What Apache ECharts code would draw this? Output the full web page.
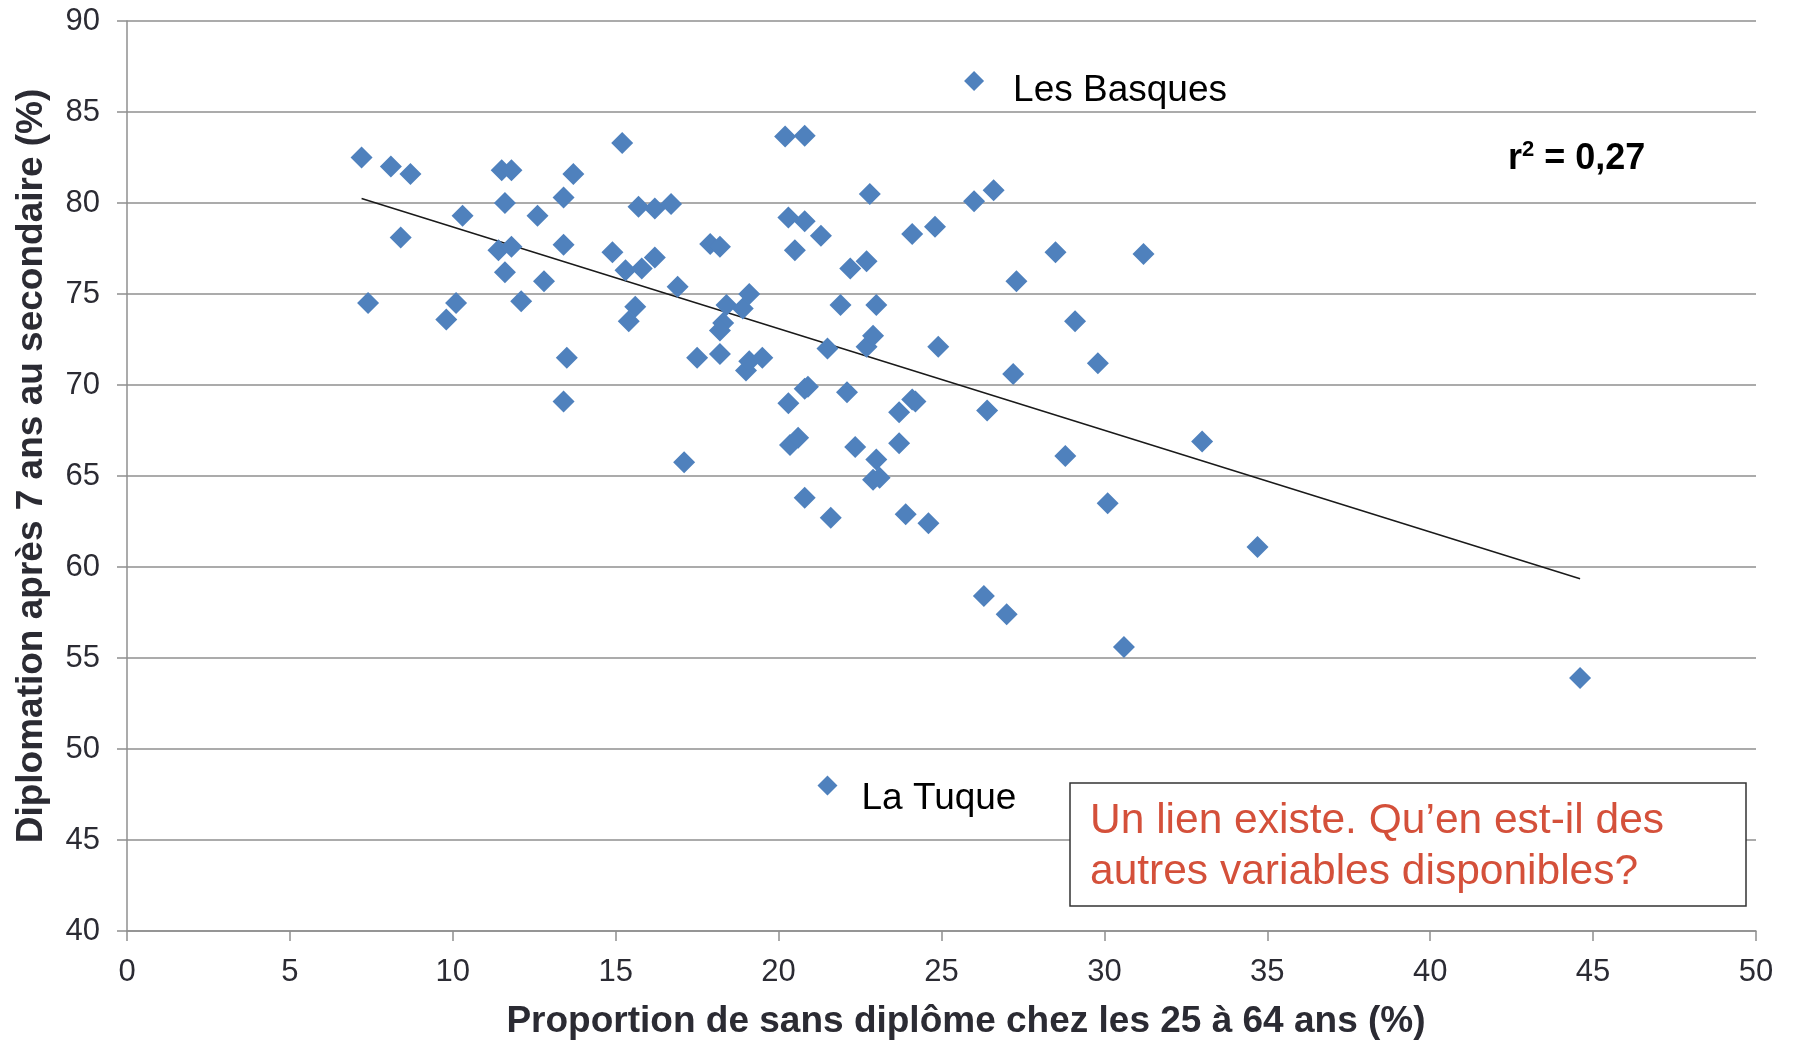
<!DOCTYPE html>
<html>
<head>
<meta charset="utf-8">
<script src="https://cdn.jsdelivr.net/npm/echarts@6/dist/echarts.min.js"></script>
<style>
html,body{margin:0;padding:0;background:#fff;}
#chart{width:1793px;height:1043px;}
</style>
</head>
<body>
<div id="chart"></div>
<script>
// Proportion de sans diplôme chez les 25 à 64 ans (%)
const xValues = [7.2,7.4,8.1,8.4,8.7,9.8,10.1,10.3,11.4,11.5,11.8,11.6,11.8,11.6,12.1,12.6,12.8,13.4,13.4,13.5,13.4,13.7,14.9,15.2,15.3,15.6,15.4,15.7,15.8,16.2,16.2,16.7,16.9,17.1,17.5,17.9,18.2,18.3,18.2,18.4,18.2,18.9,19.0,19.1,19.1,19.5,20.2,20.8,20.3,20.8,20.5,21.3,20.3,20.8,20.9,20.35,20.6,20.8,21.5,21.6,21.9,22.1,22.2,22.7,22.35,22.8,22.7,22.9,23.0,23.0,22.9,23.1,23.7,23.7,23.9,24.1,24.1,24.2,24.6,24.8,24.9,26.0,26.6,26.4,26.3,27.0,27.2,27.3,28.5,28.8,29.1,29.8,30.1,30.6,31.2,33.0,34.7,44.6];
// Diplomation après 7 ans au secondaire (%)
const yValues = [82.5,74.5,82.0,78.1,81.6,73.6,74.5,79.3,77.4,81.8,81.8,80.0,77.6,76.2,74.6,79.3,75.7,80.3,77.7,71.5,69.1,81.6,77.3,83.3,76.3,74.3,73.5,79.8,76.4,79.7,77.0,79.95,75.4,65.75,71.5,77.75,77.6,73.4,73.0,74.4,71.7,74.2,70.8,71.3,75.0,71.5,83.65,83.7,79.2,79.0,77.4,78.2,69.0,69.8,69.9,66.7,67.1,63.8,72.0,62.7,74.4,69.6,76.4,76.8,66.6,80.5,72.1,72.7,74.4,65.9,64.8,64.9,68.5,66.8,62.9,78.3,69.2,69.1,62.4,78.7,72.1,80.1,80.7,68.6,58.4,57.4,70.6,75.7,77.3,66.1,73.5,71.2,63.5,55.6,77.2,66.9,61.1,53.9];
// Labelled territories
const labelNames = ['Les Basques','La Tuque'];
const labelX = [26.0, 21.5];
const labelY = [86.7, 48.0];
// Linear trend (endpoints)
const trendX = [7.2, 44.6];
const trendY = [80.25, 59.35];
const r2Text = '0,27';
const xTitle = 'Proportion de sans diplôme chez les 25 à 64 ans (%)';
const yTitle = 'Diplomation après 7 ans au secondaire (%)';
const noteLines = ['Un lien existe. Qu\u2019en est-il des', 'autres variables disponibles?'];

const FONT = '"Liberation Sans", Arial, Helvetica, sans-serif';
const BLUE = '#4F81BD';
const GRID_GRAY = '#8f8f8f';
const TEXT = '#2b2b33';

const chart = echarts.init(document.getElementById('chart'), null, {renderer:'canvas'});

const mainData = xValues.map((x,i)=>[x, yValues[i]]);
// per-label placement (style, not data)
const labelPlacement = [{distance:29, offset:[0,10]}, {distance:24, offset:[0,13]}];
const labelData = labelNames.map((n,i)=>({
  name:n, value:[labelX[i], labelY[i]],
  label:{distance:labelPlacement[i].distance, offset:labelPlacement[i].offset}
}));
const trendData = trendX.map((x,i)=>[x, trendY[i]]);

const option = {
  animation:false,
  backgroundColor:'#fff',
  grid:{left:127, right:37, top:21, bottom:112, containLabel:false},
  xAxis:{
    type:'value', min:0, max:50, interval:5,
    axisLine:{show:true, lineStyle:{color:GRID_GRAY, width:1.5}},
    axisTick:{show:true, length:10, inside:false, lineStyle:{color:GRID_GRAY, width:1.5}},
    axisLabel:{color:TEXT, fontSize:31, fontFamily:FONT, margin:26},
    splitLine:{show:false}
  },
  yAxis:{
    type:'value', min:40, max:90, interval:5,
    axisLine:{show:true, onZero:false, lineStyle:{color:GRID_GRAY, width:1.5}},
    axisTick:{show:true, length:10, lineStyle:{color:GRID_GRAY, width:1.5}},
    axisLabel:{color:TEXT, fontSize:31, fontFamily:FONT, margin:27},
    splitLine:{show:true, lineStyle:{color:GRID_GRAY, width:1.5}}
  },
  series:[
    {
      type:'line', data:trendData, symbol:'none', silent:true,
      lineStyle:{color:'#1a1a1a', width:1.5}, z:3
    },
    {
      type:'scatter', data:mainData, symbol:'diamond', symbolSize:22,
      itemStyle:{color:BLUE, opacity:1}, z:4
    },
    {
      type:'scatter', data:labelData, symbol:'diamond', symbolSize:20,
      itemStyle:{color:BLUE, opacity:1}, z:4,
      label:{show:true, position:'right', formatter:'{b}',
        color:'#000', fontSize:37, fontFamily:FONT}
    }
  ],
  graphic:[
    {type:'text', x:1508, y:158, z:10,
      style:{text:'{r|r}{s|2}{r| = '+r2Text+'}', textVerticalAlign:'middle',
        rich:{r:{fontSize:36, fontWeight:'bold', fontFamily:FONT, fill:'#000', verticalAlign:'bottom'},
              s:{fontSize:22, fontWeight:'bold', fontFamily:FONT, fill:'#000', verticalAlign:'top', padding:[0,0,16,0]}}}},
    {type:'text', x:966, y:1022, z:10,
      style:{text:xTitle, fontSize:37, fontWeight:'bold', fontFamily:FONT, fill:TEXT, textAlign:'center', textVerticalAlign:'middle'}},
    {type:'text', x:32, y:466, rotation:Math.PI/2, z:10,
      style:{text:yTitle, fontSize:37, fontWeight:'bold', fontFamily:FONT, fill:TEXT, textAlign:'center', textVerticalAlign:'middle'}},
    {type:'rect', shape:{x:1070, y:783, width:676, height:123}, z:10,
      style:{fill:'#fff', stroke:'#333', lineWidth:1.5}},
    {type:'text', x:1090, y:821, z:11,
      style:{text:noteLines[0], fontSize:42.5, fontFamily:FONT, fill:'#D4503A', textVerticalAlign:'middle'}},
    {type:'text', x:1090, y:872, z:11,
      style:{text:noteLines[1], fontSize:42.5, fontFamily:FONT, fill:'#D4503A', textVerticalAlign:'middle'}}
  ]
};
chart.setOption(option);
</script>
</body>
</html>
